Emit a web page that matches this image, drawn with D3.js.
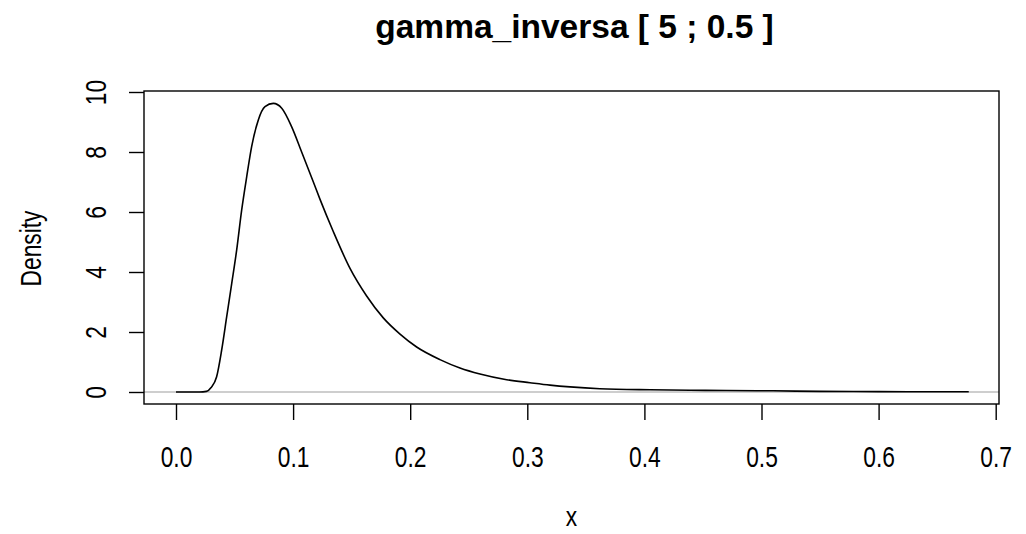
<!DOCTYPE html>
<html>
<head>
<meta charset="utf-8">
<script src="https://cdn.jsdelivr.net/npm/d3@7"></script>
<style>
  html, body { margin: 0; padding: 0; background: #fff; }
  svg text { font-family: "Liberation Sans", Arial, sans-serif; fill: #000; }
</style>
</head>
<body>
<svg id="chart" width="1026" height="534"></svg>
<script>
// ---- data ----
const title = "gamma_inversa [ 5 ; 0.5 ]";
const xLabel = "x";
const yLabel = "Density";
const xTicks = [0.0, 0.1, 0.2, 0.3, 0.4, 0.5, 0.6, 0.7];
const yTicks = [0, 2, 4, 6, 8, 10];
const densX = [0, 0.010, 0.020, 0.026, 0.030, 0.0347, 0.039, 0.0433, 0.0476, 0.0518,
  0.0561, 0.0604, 0.0646, 0.0703, 0.076, 0.0831, 0.0903, 0.0988, 0.1073, 0.1173,
  0.123, 0.1343, 0.1486, 0.1628, 0.177, 0.1913, 0.2055, 0.2254, 0.2425, 0.2596,
  0.2824, 0.3023, 0.3194, 0.3365, 0.362, 0.405, 0.439, 0.47, 0.51, 0.55, 0.60, 0.65, 0.677];
const densY = [0, 0, 0, 0.02, 0.15, 0.51, 1.4, 2.51, 3.62, 4.73,
  6.07, 7.18, 8.18, 9.07, 9.51, 9.62, 9.46, 8.84, 8.0, 7.0,
  6.42, 5.35, 4.12, 3.2, 2.47, 1.93, 1.5, 1.08, 0.8, 0.6,
  0.41, 0.31, 0.23, 0.17, 0.11, 0.075, 0.06, 0.05, 0.04, 0.02, 0.012, 0.008, 0.006];

// ---- layout ----
const box = { left: 144, right: 999, top: 91, bottom: 404 };
const svg = d3.select("#chart");
const FONT = "Liberation Sans, Arial, sans-serif";
const STRETCH = "scale(0.95,1.2)";

const x = d3.scaleLinear().domain([0, 0.7]).range([176, 995.7]);
const y = d3.scaleLinear().domain([0, 10]).range([392, 92]);

// zero line (gray)
svg.append("line")
  .attr("x1", box.left).attr("x2", box.right)
  .attr("y1", y(0)).attr("y2", y(0))
  .attr("stroke", "#bebebe").attr("stroke-width", 1.5);

// density curve
const pts = densX.map((d, i) => [d, densY[i]]);
svg.append("path")
  .datum(pts)
  .attr("fill", "none")
  .attr("stroke", "#000")
  .attr("stroke-width", 1.6)
  .attr("d", d3.line().x(d => x(d[0])).y(d => y(d[1])).curve(d3.curveMonotoneX));

// box
svg.append("rect")
  .attr("x", box.left).attr("y", box.top)
  .attr("width", box.right - box.left).attr("height", box.bottom - box.top)
  .attr("fill", "none").attr("stroke", "#000").attr("stroke-width", 1.4);

// x axis
const xAxis = d3.axisBottom(x).tickValues(xTicks).tickFormat(d3.format(".1f"))
  .tickSize(16).tickPadding(0);
const gx = svg.append("g").attr("transform", `translate(0,${box.bottom})`).call(xAxis);
gx.select(".domain").remove();
gx.selectAll(".tick line").attr("stroke", "#000").attr("stroke-width", 1.4);
gx.selectAll(".tick text")
  .attr("y", 0).attr("dy", null)
  .attr("transform", `translate(0,63) ${STRETCH}`)
  .attr("font-size", 24).attr("font-family", FONT)
  .attr("fill", "#000");

// y axis
const yAxis = d3.axisLeft(y).tickValues(yTicks).tickFormat(d3.format("d"))
  .tickSize(15).tickPadding(0);
const gy = svg.append("g").attr("transform", `translate(${box.left},0)`).call(yAxis);
gy.select(".domain").remove();
gy.selectAll(".tick line").attr("stroke", "#000").attr("stroke-width", 1.4);
gy.selectAll(".tick text")
  .attr("x", null).attr("dy", null)
  .attr("text-anchor", "middle")
  .attr("transform", `translate(-38,0) rotate(-90) ${STRETCH}`)
  .attr("font-size", 24).attr("font-family", FONT)
  .attr("fill", "#000");

// title
svg.append("text")
  .attr("x", (box.left + box.right) / 2 + 3).attr("y", 38)
  .attr("text-anchor", "middle")
  .attr("font-size", 33.5).attr("font-weight", "bold")
  .text(title);

// axis labels
svg.append("text")
  .attr("transform", `translate(${(box.left + box.right) / 2},526) scale(0.95,1.15)`)
  .attr("text-anchor", "middle").attr("font-size", 24)
  .text(xLabel);

svg.append("text")
  .attr("transform", `translate(41,${(box.top + box.bottom) / 2 + 1}) rotate(-90) ${STRETCH}`)
  .attr("text-anchor", "middle").attr("font-size", 24)
  .text(yLabel);
</script>
</body>
</html>
